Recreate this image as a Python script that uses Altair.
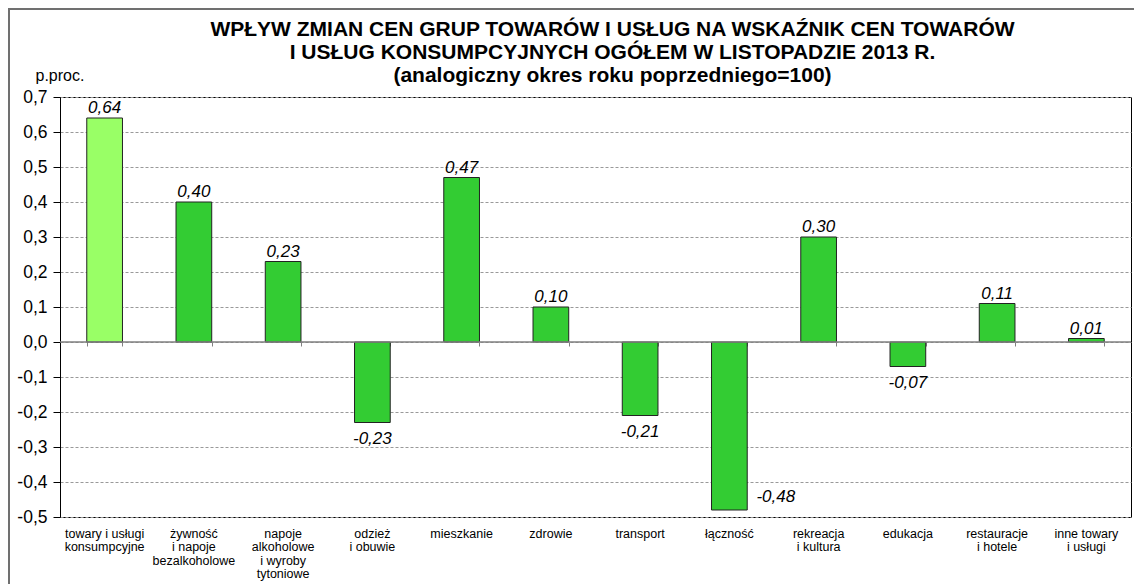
import altair as alt
import pandas as pd

categories = [
    "towary i usługi|konsumpcyjne",
    "żywność|i napoje|bezalkoholowe",
    "napoje|alkoholowe|i wyroby|tytoniowe",
    "odzież|i obuwie",
    "mieszkanie",
    "zdrowie",
    "transport",
    "łączność",
    "rekreacja|i kultura",
    "edukacja",
    "restauracje|i hotele",
    "inne towary|i usługi",
]
values = [0.64, 0.40, 0.23, -0.23, 0.47, 0.10, -0.21, -0.48, 0.30, -0.07, 0.11, 0.01]
is_total = [True] + [False] * 11
y_ticks = [-0.5, -0.4, -0.3, -0.2, -0.1, 0.0, 0.1, 0.2, 0.3, 0.4, 0.5, 0.6, 0.7]

title_lines = [
    "WPŁYW ZMIAN CEN GRUP TOWARÓW I USŁUG NA WSKAŹNIK CEN TOWARÓW",
    "I USŁUG KONSUMPCYJNYCH OGÓŁEM W LISTOPADZIE 2013 R.",
    "(analogiczny okres roku poprzedniego=100)",
]

df = pd.DataFrame({"cat": categories, "v": values, "total": is_total})

FONT = "Liberation Sans"
W, H = 1071, 420

xscale = alt.Scale(domain=categories, paddingInner=0.6, paddingOuter=0.3)
yscale = alt.Scale(domain=[-0.5, 0.7], nice=False, zero=False)

label_expr = "replace(replace(format(datum.v, '.2f'), '.', ','), '\u2212', '-')"

y_axis = alt.Axis(values=y_ticks, grid=True, gridDash=[3, 2], gridColor="#999999",
                  domainColor="#000000", tickColor="#000000", tickSize=7,
                  labelOverlap=False, labelBound=False, labelFlush=False,
                  labelExpr="replace(replace(format(datum.value, '.1f'), '.', ','), '\u2212', '-')",
                  labelFont=FONT, labelFontSize=17.5, labelColor="#000000", labelPadding=6,
                  title="p.proc.", titleAngle=0, titleAlign="left", titleBaseline="middle",
                  titleX=-25, titleY=-22, titleFont=FONT, titleFontSize=16,
                  titleFontWeight="normal", titleColor="#000000")

base = alt.Chart(df)

bars = base.mark_bar(stroke="#222222", strokeWidth=1).encode(
    x=alt.X("cat:N", sort=None, scale=xscale,
            axis=alt.Axis(orient="bottom", offset=-175, labels=False, domain=False,
                          ticks=True, tickBand="extent", tickSize=4, tickColor="#808080",
                          grid=False, title=None)),
    y=alt.Y("v:Q", scale=yscale, axis=y_axis),
    color=alt.Color("total:N", scale=alt.Scale(domain=[True, False], range=["#99FF66", "#33CC33"]),
                    legend=None),
)

zero = alt.Chart(pd.DataFrame({"v": [0.0]})).mark_rule(color="#808080", strokeWidth=1.5).encode(
    y=alt.Y("v:Q", scale=yscale, axis=y_axis)
)

text_common = dict(font=FONT, fontSize=17, fontStyle="italic", color="#000000")

pos_text = base.transform_filter("datum.v >= 0").transform_calculate(lab=label_expr).mark_text(
    baseline="alphabetic", dy=-5, **text_common
).encode(
    x=alt.X("cat:N", sort=None, scale=xscale,
            axis=alt.Axis(orient="bottom", domain=False, ticks=False, grid=False, title=None,
                          labelExpr="split(datum.label, '|')", labelAngle=0,
                          labelFont=FONT, labelFontSize=12.5, labelLineHeight=13.5,
                          labelColor="#000000", labelPadding=10, labelBaseline="top",
                          labelLimit=200)),
    y=alt.Y("v:Q", scale=yscale, axis=y_axis),
    text="lab:N",
)

neg_text = base.transform_filter("datum.v < 0 && datum.v > -0.4").transform_calculate(lab=label_expr).mark_text(
    baseline="top", dy=8, **text_common
).encode(
    x=alt.X("cat:N", sort=None, scale=xscale, axis=None),
    y=alt.Y("v:Q", scale=yscale, axis=y_axis),
    text="lab:N",
)

low_text = base.transform_filter("datum.v <= -0.4").transform_calculate(lab=label_expr).mark_text(
    baseline="middle", align="left", dx=27, dy=-13, **text_common
).encode(
    x=alt.X("cat:N", sort=None, scale=xscale, axis=None),
    y=alt.Y("v:Q", scale=yscale, axis=y_axis),
    text="lab:N",
)

frame_df = pd.DataFrame({"a": [0]})
frame_top = alt.Chart(frame_df).mark_rule(color="#707070", strokeWidth=2).encode(
    x=alt.value(-52), x2=alt.value(W + 3), y=alt.value(-88)
)
frame_left = alt.Chart(frame_df).mark_rule(color="#707070", strokeWidth=2).encode(
    x=alt.value(-51), y=alt.value(-89), y2=alt.value(H + 67)
)

title = alt.Chart(frame_df).mark_text(
    font=FONT, fontSize=21, fontWeight="bold", color="#000000", align="center",
    baseline="alphabetic", lineBreak="\n", lineHeight=23
).encode(
    x=alt.value(W / 2 + 17), y=alt.value(-61), text=alt.value("\n".join(title_lines))
)

chart = alt.layer(
    frame_top, frame_left, title, bars, zero, pos_text, neg_text, low_text
).resolve_axis(x="independent").properties(
    width=W, height=H,
    autosize=alt.AutoSizeParams(type="none"),
    padding={"left": 52, "top": 89, "right": 3, "bottom": 67},
).configure_view(stroke="#000000", strokeWidth=1)

chart.save("out.html", embed_options={"renderer": "svg", "actions": False})
